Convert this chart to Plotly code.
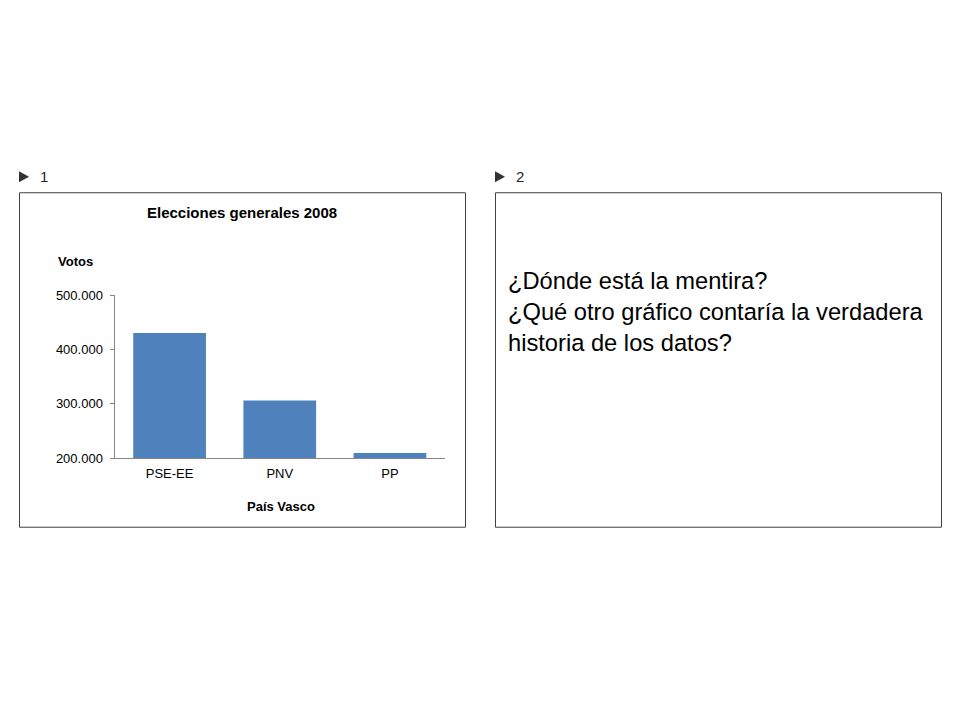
"""Elecciones generales 2008 - País Vasco."""
import plotly.graph_objects as go

W, H = 960, 720

# datos
partidos = ['PSE-EE', 'PNV', 'PP']
votos = [430690, 306128, 209244]
ticks_y = [200000, 300000, 400000, 500000]


# pixel da imagem -> coordenada paper (compensa o deslocamento da pagina)
def px(x):
    return (x - 8) / W


def py(y):
    return 1 - (y - 16) / (H - 16)


fig = go.Figure()

fig.add_trace(go.Bar(
    x=partidos,
    y=votos,
    marker=dict(color='#4F81BD', line=dict(width=0)),
    width=0.66,
    hoverinfo='x+y',
))

fig.update_layout(
    width=W, height=H,
    margin=dict(l=0, r=0, t=0, b=0),
    paper_bgcolor='white',
    plot_bgcolor='white',
    separators=',.',
    showlegend=False,
    font=dict(family='Arial, Liberation Sans, sans-serif', color='#000000'),
    xaxis=dict(
        domain=[px(114.5), px(445)],
        showline=True, linecolor='#868686', linewidth=1,
        ticks='', showgrid=False,
        tickfont=dict(size=13, color='#000000'),
        ticklabelstandoff=3,
        fixedrange=True,
    ),
    yaxis=dict(
        domain=[py(458.5), py(296)],
        range=[200000, 500000],
        tickvals=ticks_y,
        tickformat=',',
        showline=True, linecolor='#868686', linewidth=1,
        ticks='outside', ticklen=4, tickcolor='#868686',
        showgrid=False, zeroline=False,
        tickfont=dict(size=13, color='#000000'),
        ticklabelstandoff=4,
        fixedrange=True,
    ),
)

# recuadros
for x0, x1 in [(19.5, 465.5), (495.5, 941.5)]:
    fig.add_shape(type='rect', xref='paper', yref='paper',
                  x0=px(x0), x1=px(x1), y0=py(193.5), y1=py(527.5),
                  line=dict(color='#404040', width=1), fillcolor='rgba(0,0,0,0)')

# triangulos de numeracion
for xt in [19, 495]:
    fig.add_shape(type='path', xref='paper', yref='paper',
                  path='M {} {} L {} {} L {} {} Z'.format(
                      px(xt), py(172), px(xt + 10), py(177.5), px(xt), py(183)),
                  line=dict(width=0), fillcolor='#333333')

textos = [
    dict(text='1', x=px(38), y=py(177.5), xanchor='left', font=dict(size=15, color='#262626')),
    dict(text='2', x=px(514), y=py(177.5), xanchor='left', font=dict(size=15, color='#262626')),
    dict(text='<b>Elecciones generales 2008</b>', x=px(241.5), y=py(213.5),
         xanchor='center', font=dict(size=15)),
    dict(text='<b>Votos</b>', x=px(56), y=py(262.5), xanchor='left', font=dict(size=13)),
    dict(text='<b>País Vasco</b>', x=px(280.5), y=py(506.5),
         xanchor='center', font=dict(size=13)),
    dict(text='¿Dónde está la mentira?<br>¿Qué otro gráfico contaría la verdadera<br>historia de los datos?',
         x=px(506), y=py(313), xanchor='left', align='left',
         font=dict(size=23.7)),
]
for t in textos:
    fig.add_annotation(xref='paper', yref='paper', yanchor='middle',
                       showarrow=False, **t)

fig.write_html('out.html')
